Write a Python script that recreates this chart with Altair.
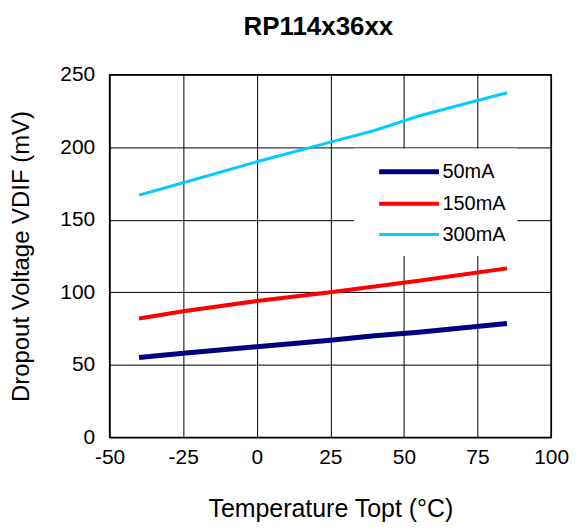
import altair as alt
import pandas as pd

temps = [-40, -25, 0, 25, 40, 55, 85]
v50 = [55, 58, 62.5, 67, 70, 72.5, 78.5]
v150 = [82, 87, 94, 100, 104, 108, 116.5]
v300 = [167, 175.5, 190, 203.5, 211.5, 221.5, 237.5]
series = ["50mA", "150mA", "300mA"]
colors = ["#000080", "#ff0000", "#00ccff"]
widths = [5, 3, 3]

rows = []
for name, vals in zip(series, [v50, v150, v300]):
    for t, v in zip(temps, vals):
        rows.append({"temp": t, "v": v, "series": name})
df = pd.DataFrame(rows)

FONT = "Liberation Sans"
LEG_SYMBOL = "M0.2,0L6.2,0"

chart = alt.Chart(df).mark_line().encode(
    x=alt.X("temp:Q", title="Temperature Topt (°C)",
            scale=alt.Scale(domain=[-50, 100], nice=False),
            axis=alt.Axis(values=[-50, -25, 0, 25, 50, 75, 100], labelPadding=9,
                          labelExpr="datum.value", labelFlush=False,
                          titlePadding=29, titleFontSize=25)),
    y=alt.Y("v:Q", title="Dropout Voltage VDIF (mV)",
            scale=alt.Scale(domain=[0, 250], nice=False),
            axis=alt.Axis(values=[0, 50, 100, 150, 200, 250], labelPadding=15,
                          titlePadding=26, titleFontSize=24)),
    color=alt.Color("series:N", title=None,
                    scale=alt.Scale(domain=series, range=colors),
                    legend=alt.Legend(orient="none", legendX=245, legendY=74,
                                      fillColor="white", padding=11,
                                      symbolType=LEG_SYMBOL, symbolSize=400,
                                      labelFontSize=20, labelFont=FONT,
                                      labelColor="black", rowPadding=9.5,
                                      labelOffset=53)),
    strokeWidth=alt.StrokeWidth("series:O", title=None,
                                scale=alt.Scale(domain=series, range=widths),
                                legend=alt.Legend(orient="none", legendX=245, legendY=74)),
    order=alt.Order("temp:Q"),
).properties(
    width=443, height=364,
    title=alt.TitleParams("RP114x36xx", fontSize=26, font=FONT, fontWeight="bold",
                          anchor="middle", frame="group", dx=-12, offset=24, color="black"),
    autosize=alt.AutoSizeParams(type="none"),
    padding={"left": 102, "top": 66, "right": 20, "bottom": 84},
).configure_view(
    stroke="black", strokeWidth=1.5
).configure_axis(
    grid=True, gridColor="black", gridWidth=1, gridOpacity=1,
    domain=False, ticks=False, tickSize=0,
    labelFont=FONT, labelFontSize=21, labelColor="black",
    titleFont=FONT, titleFontWeight="normal", titleColor="black",
)

chart.save("out.html", embed_options={"renderer": "svg", "actions": False})
